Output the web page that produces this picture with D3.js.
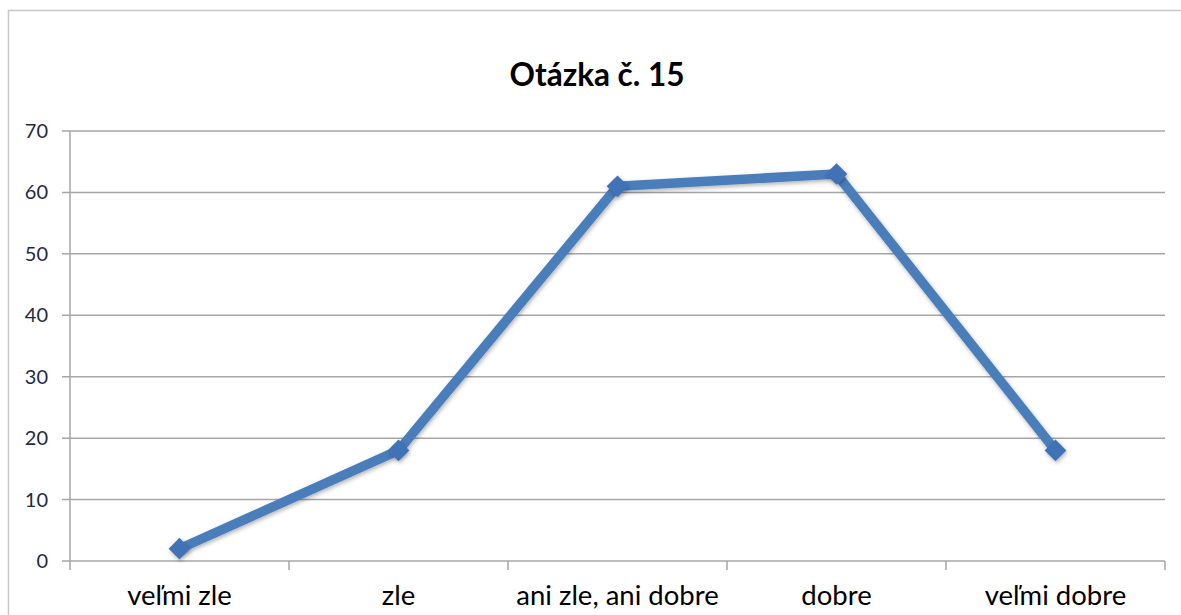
<!DOCTYPE html>
<html>
<head>
<meta charset="utf-8">
<script src="https://cdn.jsdelivr.net/npm/d3@7"></script>
<style>
  body { margin: 0; background: #fff; }
  svg { display: block; }
</style>
</head>
<body>
<svg id="chart" width="1181" height="615"></svg>
<script>
var categories = ["veľmi zle", "zle", "ani zle, ani dobre", "dobre", "veľmi dobre"];
var values = [2, 18, 61, 63, 18];
var yTicks = [0, 10, 20, 30, 40, 50, 60, 70];
var title = "Otázka č. 15";

var svg = d3.select('#chart');
var margin = {top: 131, right: 16, bottom: 54, left: 70};
var W = 1181, H = 615;

// outer chart frame
svg.append("rect")
    .attr("x", 8.5).attr("y", 10.5)
    .attr("width", W).attr("height", H)
    .style("fill", "none")
    .style("stroke", "#c8c8c8")
    .style("stroke-width", 1.5);

var x = d3.scaleBand().domain(categories).range([margin.left, W - margin.right]);
var y = d3.scaleLinear().domain([0, 70]).range([H - margin.bottom, margin.top]);

// gridlines
svg.append("g").selectAll("line")
    .data(yTicks)
    .enter().append("line")
    .attr("x1", margin.left - 8)
    .attr("x2", W - margin.right)
    .attr("y1", function(d) { return y(d); })
    .attr("y2", function(d) { return y(d); })
    .style("stroke", "#a6a6a6")
    .style("stroke-width", 1.5);

// y axis line
svg.append("line")
    .attr("x1", margin.left).attr("x2", margin.left)
    .attr("y1", y(70)).attr("y2", y(0) + 9)
    .style("stroke", "#a6a6a6")
    .style("stroke-width", 1.5);

// x tick marks between categories
var bounds = categories.map(function(c) { return x(c) + x.bandwidth(); });
svg.append("g").selectAll("line")
    .data(bounds)
    .enter().append("line")
    .attr("x1", function(d) { return d; })
    .attr("x2", function(d) { return d; })
    .attr("y1", y(0))
    .attr("y2", y(0) + 9)
    .style("stroke", "#a6a6a6")
    .style("stroke-width", 1.5);

// y labels
svg.append("g").selectAll("text")
    .data(yTicks)
    .enter().append("text")
    .attr("x", 48)
    .attr("y", function(d) { return y(d); })
    .attr("dy", "0.35em")
    .attr("text-anchor", "end")
    .style("font-family", "Lato, sans-serif")
    .style("font-size", "20px")
    .style("fill", "#1f2a44")
    .text(function(d) { return d; });

// x labels
svg.append("g").selectAll("text")
    .data(categories)
    .enter().append("text")
    .attr("x", function(d) { return x(d) + x.bandwidth() / 2; })
    .attr("y", 605)
    .attr("text-anchor", "middle")
    .style("font-family", "Lato, sans-serif")
    .style("font-size", "27.5px")
    .style("fill", "#000")
    .text(function(d) { return d; });

// title
svg.append("text")
    .attr("x", 597)
    .attr("y", 86)
    .attr("text-anchor", "middle")
    .style("font-family", "Lato, sans-serif")
    .style("font-weight", "bold")
    .style("font-size", "31.5px")
    .text(title);

var defs = svg.append("defs");
var f = defs.append("filter").attr("id", "shadow")
    .attr("x", "-20%").attr("y", "-20%").attr("width", "140%").attr("height", "140%");
f.append("feDropShadow")
    .attr("dx", 1).attr("dy", 2).attr("stdDeviation", 2)
    .attr("flood-color", "#000").attr("flood-opacity", 0.3);

var data = categories.map(function(c, i) { return {cat: c, v: values[i]}; });
var cx = function(d) { return x(d.cat) + x.bandwidth() / 2; };

var line = d3.line()
    .x(cx)
    .y(function(d) { return y(d.v); });

svg.append("path")
    .datum(data)
    .attr("d", line)
    .attr("filter", "url(#shadow)")
    .style("fill", "none")
    .style("stroke", "#4a7ebb")
    .style("stroke-width", 9.5)
    .style("stroke-linejoin", "round");

svg.append("g").selectAll("path")
    .data(data)
    .enter().append("path")
    .attr("d", d3.symbol().type(d3.symbolDiamond2).size(300))
    .attr("transform", function(d) { return "translate(" + cx(d) + "," + y(d.v) + ")"; })
    .attr("filter", "url(#shadow)")
    .style("fill", "#3f72b5");
</script>
</body>
</html>
